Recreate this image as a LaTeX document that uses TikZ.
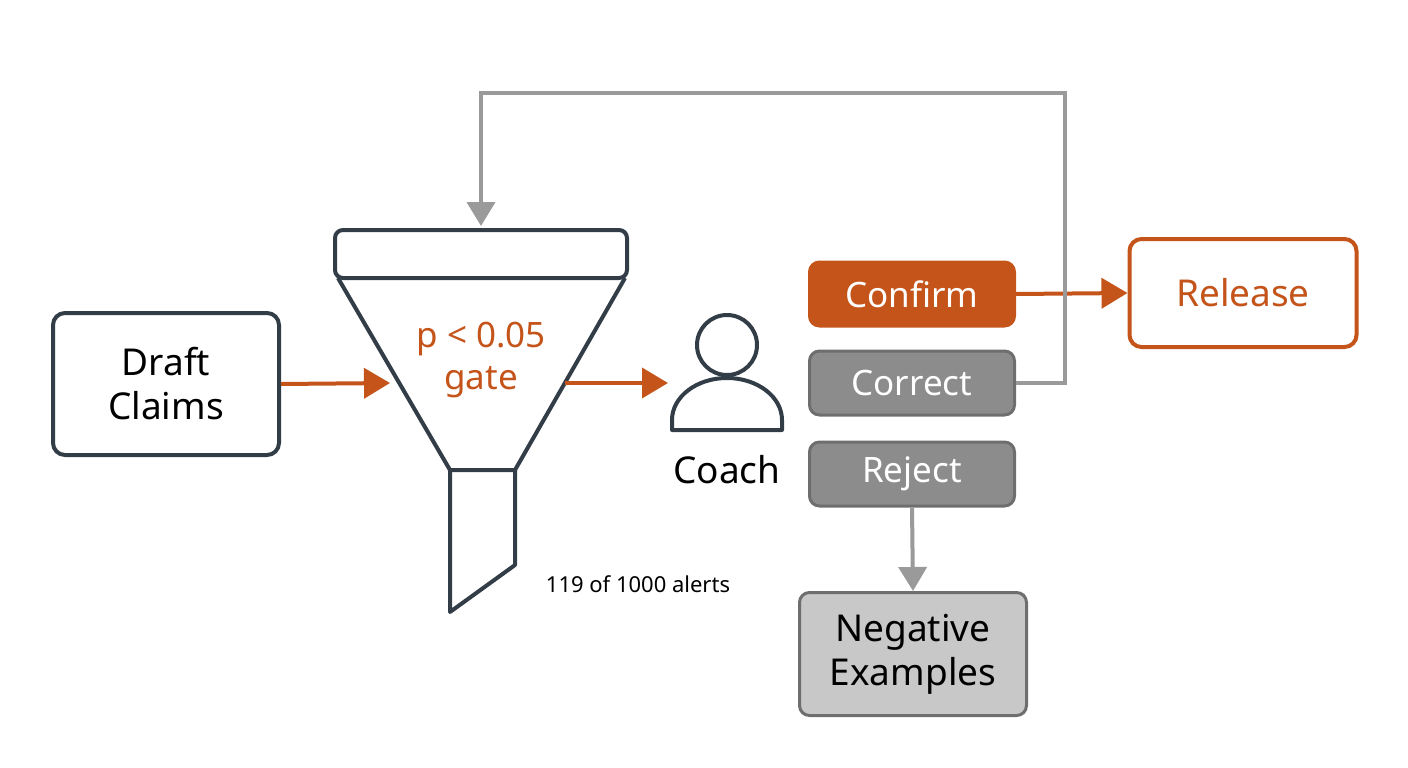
\documentclass[tikz,border=0pt]{standalone}
\usepackage{fontspec}
\setmainfont{Noto Sans}
\usetikzlibrary{arrows.meta}
\definecolor{dk}{HTML}{333D47}
\definecolor{orng}{HTML}{C4541A}
\definecolor{gr}{HTML}{8C8C8C}
\definecolor{grs}{HTML}{6E6E6E}
\definecolor{lgr}{HTML}{C8C8C8}
\definecolor{fb}{HTML}{9A9A9A}
\tikzset{
 box/.style={draw=dk,line width=4pt,rounded corners=12pt,fill=white,align=center,font=\fontsize{37}{44}\selectfont,inner sep=0pt},
 gbox/.style={draw=grs,line width=3pt,rounded corners=10pt,fill=gr,text=white,align=center,font=\fontsize{35}{40}\selectfont,inner sep=0pt,minimum width=205pt,minimum height=64pt},
 oarr/.style={draw=orng,line width=4pt,-{Triangle[length=26pt,width=30pt]}},
 garr/.style={draw=fb,line width=4pt,-{Triangle[length=24pt,width=28pt]}},
}
\begin{document}
\begin{tikzpicture}[x=1pt,y=-1pt]
\useasboundingbox (0,0) rectangle (1408,768);
\node[box,minimum width=226pt,minimum height=142pt] (draft) at (166,384) {Draft\\Claims};
% funnel
\draw[dk,line width=4pt,rounded corners=8pt,fill=white] (335,278) rectangle (627,230);
\draw[dk,line width=4pt,line join=round] (338,278) -- (450,470) -- (515,470) -- (625,278);
\draw[dk,line width=4pt,line join=round] (450,470) -- (450,612) -- (515,565) -- (515,470);
\coordinate (fin) at (390,383);
\coordinate (fout) at (565,383);
\coordinate (ftop) at (481,226);
\node[text=orng,align=center,font=\fontsize{35}{42}\selectfont] (gate) at (481,360) {p < 0.05\\gate};
\node[font=\fontsize{22}{26}\selectfont] (alerts) at (638,584) {119 of 1000 alerts};
% person
\draw[dk,line width=4pt] (727,345) circle (30);
\draw[dk,line width=4pt,line join=round] (672,430) -- (672,420) arc[start angle=180,end angle=360,x radius=55,y radius=42] -- (782,430) -- cycle;
\coordinate (coachin) at (668,383);
\node[font=\fontsize{37}{44}\selectfont] (coach) at (727,470) {Coach};
% decisions
\node[gbox,draw=orng,fill=orng] (confirm) at (912,294) {Confirm};
\node[gbox] (correct) at (912,383) {Correct};
\node[gbox] (reject) at (912,474) {Reject};
\node[box,draw=orng,text=orng,minimum width=227pt,minimum height=108pt] (release) at (1243,293) {Release};
\node[gbox,fill=lgr,text=black,minimum width=227pt,minimum height=123pt,font=\fontsize{37}{44}\selectfont] (neg) at (913,654) {Negative\\Examples};
% arrows
\draw[oarr] (draft.east) -- (fin);
\draw[oarr] (fout) -- (coachin);
\draw[oarr] (confirm.east) -- (release.west);
\draw[garr] (reject.south) -- (neg.north);
\draw[garr] (correct.east) -- (1065,383) -- (1065,93) -- (481,93) -- (ftop);
\end{tikzpicture}
\end{document}
